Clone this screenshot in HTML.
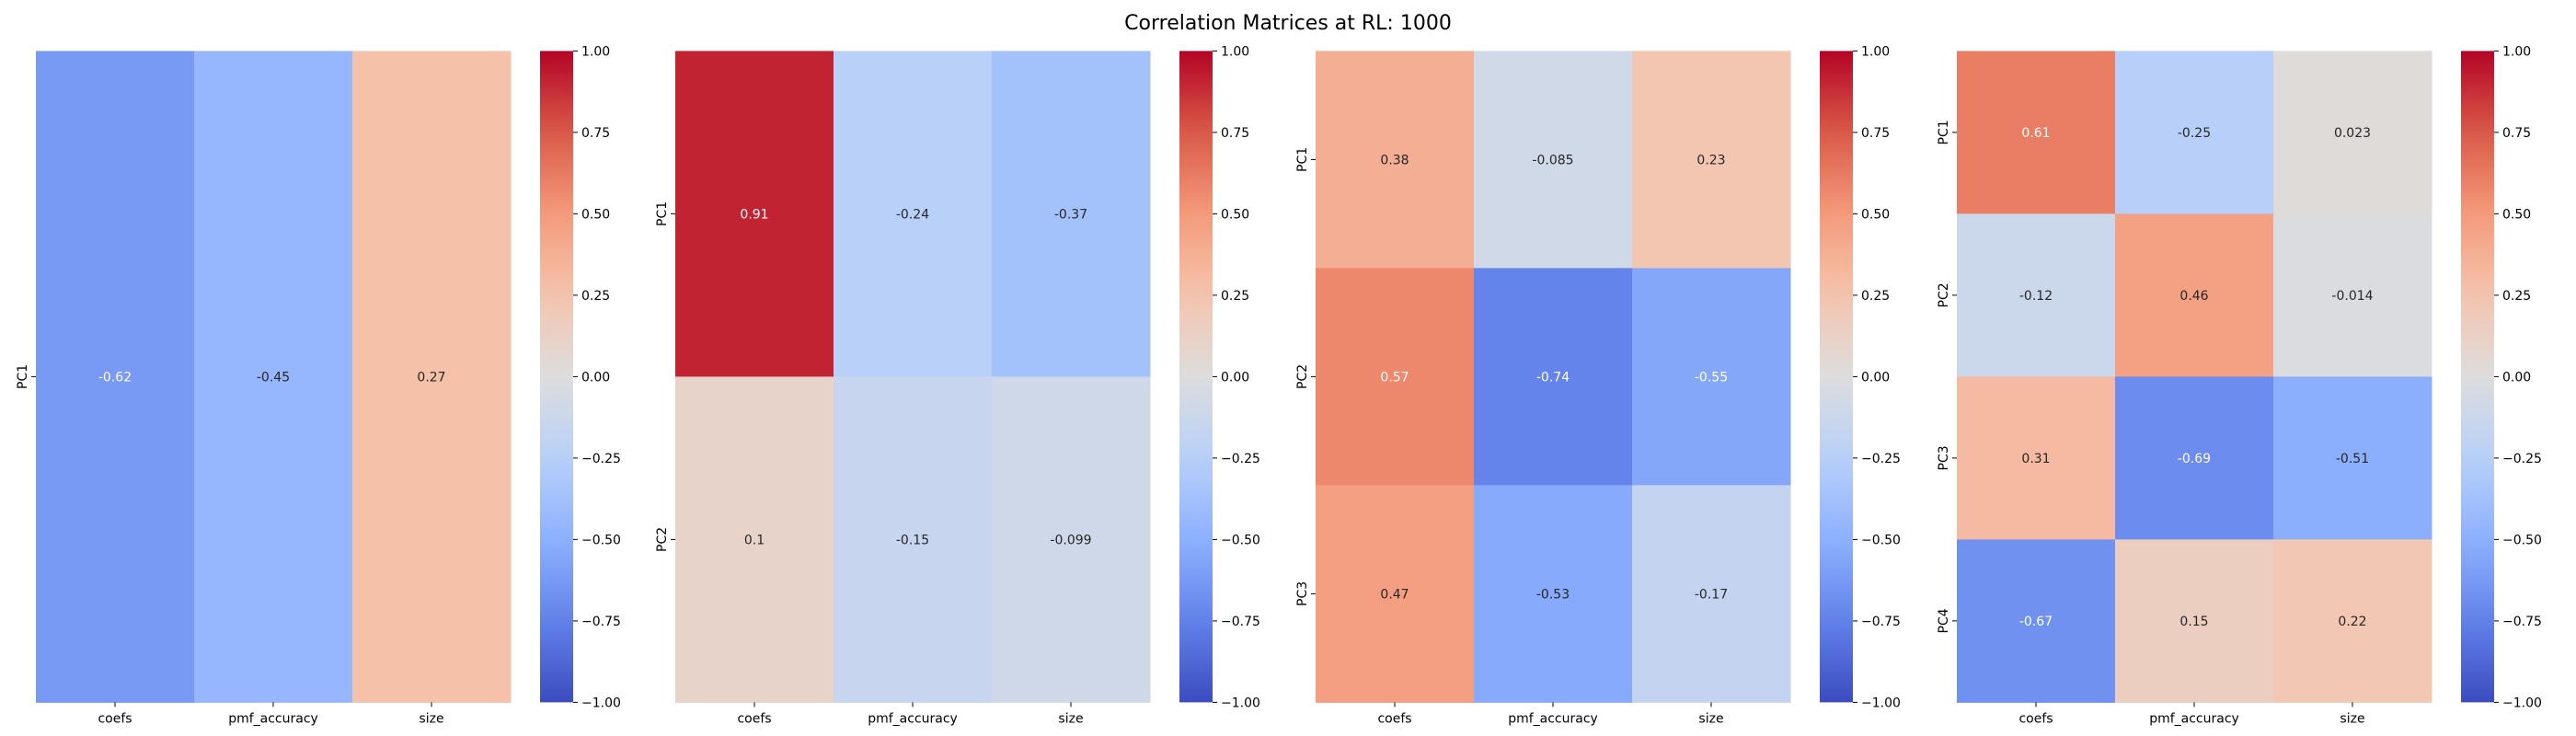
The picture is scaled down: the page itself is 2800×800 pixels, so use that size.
<!DOCTYPE html>
<html><head><meta charset="utf-8">
<style>
html,body{margin:0;padding:0;background:#fff;}
svg{display:block;font-family:"DejaVu Sans","Liberation Sans",sans-serif;}
</style></head>
<body>
<svg id="fig" width="2800" height="800" viewBox="0 0 2800 800">
<text x="1400" y="32" text-anchor="middle" font-size="22" fill="#000">Correlation Matrices at RL: 1000</text>
</svg>
<script>
const columns = ["coefs","pmf_accuracy","size"];
const rows1 = ["PC1"];
const vals1 = [[-0.62,-0.45,0.27]];
const rows2 = ["PC1","PC2"];
const vals2 = [[0.91,-0.24,-0.37],[0.1,-0.15,-0.099]];
const rows3 = ["PC1","PC2","PC3"];
const vals3 = [[0.38,-0.085,0.23],[0.57,-0.74,-0.55],[0.47,-0.53,-0.17]];
const rows4 = ["PC1","PC2","PC3","PC4"];
const vals4 = [[0.61,-0.25,0.023],[-0.12,0.46,-0.014],[0.31,-0.69,-0.51],[-0.67,0.15,0.22]];
const cbTicks = [1,0.75,0.5,0.25,0,-0.25,-0.5,-0.75,-1];
const cbLabels = ["1.00","0.75","0.50","0.25","0.00","\u22120.25","\u22120.50","\u22120.75","\u22121.00"];

const NS = "http://www.w3.org/2000/svg";
const svg = document.getElementById("fig");
const stops = [[59,76,192],[98,130,234],[141,176,254],[184,208,249],[221,221,221],[245,196,173],[244,154,123],[218,90,72],[180,4,38]];
function cmap(v){
  let t = (v+1)/2; t = Math.max(0,Math.min(1,t));
  const p = t*8, i = Math.min(7,Math.floor(p)), f = p-i;
  const a = stops[i], b = stops[i+1];
  return [0,1,2].map(k=>Math.round(a[k]+(b[k]-a[k])*f));
}
function lum(c){
  const l = c.map(x=>{x/=255;return x<=0.03928?x/12.92:Math.pow((x+0.055)/1.055,2.4);});
  return 0.2126*l[0]+0.7152*l[1]+0.0722*l[2];
}
function fmt(v){ return String(v); }
function mk(tag, attrs, parent){
  const e = document.createElementNS(NS, tag);
  for (const k in attrs) e.setAttribute(k, attrs[k]);
  (parent||svg).appendChild(e);
  return e;
}
const defs = mk("defs",{});
const grad = mk("linearGradient",{id:"cw",x1:"0",y1:"1",x2:"0",y2:"0"},defs);
for (let i=0;i<=20;i++){
  const c = cmap(-1+i*0.1);
  mk("stop",{offset:(i/20).toFixed(3),"stop-color":`rgb(${c})`},grad);
}

const panels = [[rows1,vals1],[rows2,vals2],[rows3,vals3],[rows4,vals4]];
const lefts = [39,734,1430,2127];
const TOP = 55.4, H = 708, W = 516;
const yCb = v => TOP + (1-v)/2*H;

panels.forEach((pn, pi) => {
  const rows = pn[0], vals = pn[1];
  const x0 = lefts[pi];
  const g = mk("g",{});
  
  
  const cw = W/columns.length, ch = H/rows.length;
  const xS = j => x0 + j*cw;
  const yS = i => TOP + i*ch;
  rows.forEach((r, i) => {
    columns.forEach((c, j) => {
      const v = vals[i][j];
      const col = cmap(v);
      const rect = mk("rect",{x:xS(j),y:yS(i),width:cw+0.5,height:ch+0.5,fill:`rgb(${col})`},g);
      
      
      const t = mk("text",{x:xS(j)+cw/2,y:yS(i)+ch/2+5,"text-anchor":"middle","font-size":"14",fill:lum(col)<0.408?"#fff":"#262626"},g);
      t.textContent = fmt(v);
      
      
    });
    const yc = yS(i)+ch/2;
    mk("line",{x1:x0-5,y1:yc,x2:x0,y2:yc,stroke:"#000","stroke-width":1},g);
    const yl = mk("text",{x:0,y:0,transform:`translate(${x0-10},${yc}) rotate(-90)`,"text-anchor":"middle","font-size":"14",fill:"#000"},g);
    yl.textContent = r;
    
    
  });
  columns.forEach((c, j) => {
    const xc = xS(j)+cw/2;
    mk("line",{x1:xc,y1:TOP+H,x2:xc,y2:TOP+H+5,stroke:"#000","stroke-width":1},g);
    const xl = mk("text",{x:xc,y:TOP+H+22,"text-anchor":"middle","font-size":"14",fill:"#000"},g);
    xl.textContent = c;
    
    
  });
  const cx = x0 + 548, cbw = 36;
  const cb = mk("rect",{x:cx,y:TOP,width:cbw,height:H,fill:"url(#cw)"},g);
  
  
  cbTicks.forEach((tv, k) => {
    const y = yCb(tv);
    mk("line",{x1:cx+cbw,y1:y,x2:cx+cbw+5,y2:y,stroke:"#000","stroke-width":1},g);
    const tl = mk("text",{x:cx+cbw+9,y:y+5,"font-size":"14",fill:"#000"},g);
    tl.textContent = cbLabels[k];
    
    
  });
});
</script>
</body></html>
